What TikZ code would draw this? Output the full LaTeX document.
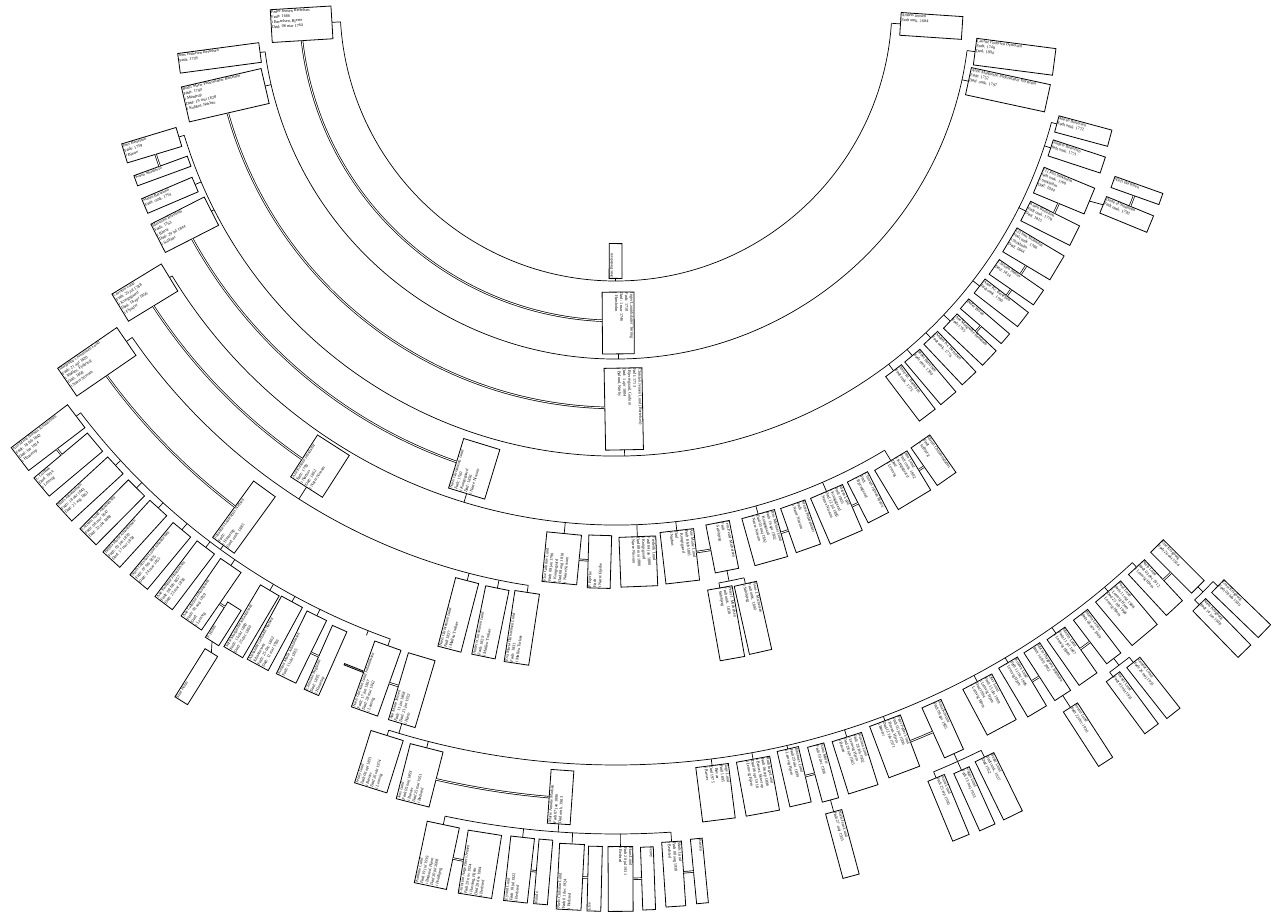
\documentclass[tikz,border=0pt]{standalone}
\usepackage{fontspec}
\setmainfont{Liberation Serif}
\tikzset{
 pbox/.style={draw, line width=0.8pt, fill=white, inner sep=0.7pt, outer sep=0pt},
 cline/.style={line width=0.7pt},
 sline/.style={double, double distance=0.9pt, line width=0.7pt},
}
% box: name, theta, radius of centre, radial length, tangential width, text
\newcommand\pbx[6]{%
 \pgfmathsetmacro\pbrot{(#2<270)?(#2-180):(#2)}%
 \pgfmathsetmacro\pbw{#4-1.6}%
 \pgfmathsetmacro\pbh{#5-1.6}%
 \node[pbox, rotate=\pbrot] (#1) at (#2:#3pt) {\parbox[c][\pbh pt][t]{\pbw pt}{\fontsize{4.2}{5.1}\selectfont\raggedright #6}};%
 \pgfmathsetmacro\pbin{#3-#4/2}%
 \pgfmathsetmacro\pbout{#3+#4/2}%
 \coordinate (#1-in) at (#2:\pbin pt);%
 \coordinate (#1-out) at (#2:\pbout pt);%
}
% family arc: radius, from, to
\newcommand\famarc[3]{\draw[cline] (#2:#1pt) arc[start angle=#2, end angle=#3, radius=#1pt];}
% child stub: radius, theta, name
\newcommand\kidln[3]{\draw[cline] (#2:#1pt) -- (#3-in);}
% parent stub: radius, theta, name
\newcommand\parln[3]{\draw[cline] (#3-out) -- (#2:#1pt);}
% spouse line: thetaA, widA, thetaB, widB, rho
\newcommand\spln[5]{%
 \pgfmathsetmacro\spa{#1+#2/2/#5*57.2958}%
 \pgfmathsetmacro\spb{#3-#4/2/#5*57.2958}%
 \draw[sline] (\spa:#5pt) arc[start angle=\spa, end angle=\spb, radius=#5pt];}
\begin{document}
\begin{tikzpicture}[x=1pt,y=1pt]
\useasboundingbox (0,0) rectangle (1271,-921);
\fill[white] (0,0) rectangle (1271,-921);
\begin{scope}[shift={(616,-5)}]
% ---------- generation 0 / arc 1
\pbx{g0}{269.9}{256}{35}{13}{Jens Bertelsen}
\pbx{peder}{183.5}{315}{61}{33}{Peder Jensen Bertelsen\\Født: 1686\\i Bertelsen, Bjerre\\Død: 08 mar 1764}
\pbx{anders}{356.2}{316}{62}{23}{Anders Jensen\\Født omk. 1684}
\famarc{276}{183.5}{356.2}
\parln{276}{269.9}{g0}
\kidln{276}{183.5}{peder}
\kidln{276}{356.2}{anders}
\pbx{inger}{270.4}{318}{62}{32}{Inger Lauridsdatter Tørring\\Født: 1710\\Død: 1 mar 1746\\i Hørsholm}
\spln{183.5}{33}{270.4}{32}{316}
% ---------- arc 2
\pbx{jenspb}{187.6}{400}{82}{20}{Jens Pedersen Bertelsen\\Født: 1736}
\pbx{bodil}{193}{401}{82}{36}{Bodil Marie Pedersdatter Bertelsen\\Født: 1740\\i Mørdrup\\Død: 19 mai 1828\\i Kobbel, Nørbro}
\pbx{lauritz}{352.6}{402}{80}{27}{Lauritz Pedersen Bertelsen\\Født: 1748\\Død: 1804}
\pbx{annem}{347.8}{401}{81}{28}{Anne Margrethe Pedersdatter Bertelsen\\Født: 1752\\Død: omk. 1797}
\famarc{354}{187.6}{352.6}
\parln{354}{270.4}{inger}
\kidln{354}{187.6}{jenspb}
\kidln{354}{193}{bodil}
\kidln{354}{352.6}{lauritz}
\kidln{354}{347.8}{annem}
\pbx{christenj}{271.1}{404}{82}{38}{Christen Jensen Lund (Bertelsen)\\Født: 1713\\i Bjerregaard, Gudum\\Død: 1 apr 1804\\i Bølund, Nørby}
\spln{193}{36}{271.1}{38}{403}
% ---------- arc 3
\pbx{jensb}{196.8}{485}{57}{20}{Jens Bertelsen\\Født: 1759\\i Bjerre}
\pbx{karens}{200.1}{483}{57}{11}{Karen Skaldevin}
\pbx{marenb}{203.1}{485}{55}{16}{Maren Bertelsen\\Født: omk. 1761}
\pbx{marianne}{207}{484}{60}{32}{Marianne Bertelsen\\Født: 1763\\i Bjerre\\Død: 29 jul 1844\\i Solkjær}
\pbx{marenb2}{344.9}{484}{55}{17}{Maren Bertelsen\\Født omk. 1772}
\pbx{andersb}{341.8}{485}{55}{17}{Anders Bertelsen\\født omk. 1771}
\pbx{jens1}{337.5}{485}{55}{28}{[1] Jens Stokholm\\født omk. 1760\\i Stokholm\\Død: 1844}
\pbx{karenb}{333.3}{486}{55}{22}{Karen Bertelsen\\Født omk. 1770\\Død: 1815}
\pbx{jens2}{329.2}{486}{55}{28}{[2] Jens Stokholm\\Født omk. 1760\\i Stokholm\\Død: 1844}
\pbx{christenm}{325.3}{487}{54}{18}{Christen Møller\\Død: 1814}
\pbx{anekrb}{322.3}{487}{55}{18}{Anne Kr. Bertelsen\\Født omk. 1790}
\pbx{pederbr}{319.4}{486}{54}{13}{Peder Bruun}
\pbx{anemb}{316.6}{487}{54}{20}{Ane Margrethe Bertelsen\\Født 1765}
\pbx{anderskb}{313.4}{486}{56}{19}{Anders Kr. Bertelsen\\Født omk. 1776}
\pbx{pederb}{310.2}{487}{56}{20}{Peder Bertelsen\\Født omk. 1780}
\pbx{annekb}{307.2}{487}{56}{20}{Anne Kr. Bertelsen\\Født omk. 1775}
\pbx{dorte}{337.7}{552}{51}{18}{Dorte af Stokholm\\Født omk. 1790}
\pbx{nielsb}{340.4}{553}{51}{12}{Niels Bertelsen}
\famarc{451}{196.8}{344.9}
\parln{451}{271.1}{christenj}
\kidln{451}{196.8}{jensb}
\kidln{451}{203.1}{marenb}
\kidln{451}{207}{marianne}
\kidln{451}{344.9}{marenb2}
\kidln{451}{341.8}{andersb}
\kidln{451}{333.3}{karenb}
\kidln{451}{322.3}{anekrb}
\kidln{451}{316.6}{anemb}
\kidln{451}{313.4}{anderskb}
\kidln{451}{310.2}{pederb}
\kidln{451}{307.2}{annekb}
\spln{196.8}{20}{200.1}{11}{484}
\spln{333.3}{22}{337.5}{28}{485}
\spln{325.3}{18}{329.2}{28}{486}
\spln{322.3}{18}{325.3}{18}{487}
\spln{316.6}{20}{319.4}{13}{486}
\draw[cline] (jens1-out) -- (dorte-in);
\spln{337.7}{18}{340.4}{12}{552}
% ---------- arc 4
\pbx{nielsl}{253}{485}{52}{38}{Niels Christensen Lund\\Født: 1760\\i Kongsgaard\\Død: 1836\\i Nørre Nissum}
\spln{207}{32}{253}{38}{484}
\pbx{christenl}{211.4}{552}{58}{32}{Christen Lund\\Født: 25 jul 1788\\i Kongsgaard\\Død: 18 apr 1856\\i Flynder}
\pbx{else}{264.4}{556}{50}{35}{Else Cathrine Lund\\Født 08 jan 1790\\i Kongsgaard\\Død 08 aug 1818\\i Nørre Nissum}
\pbx{pbjerke}{268.3}{557}{53}{23}{P. Bjerke\\Født\\i Nørre Bjerke}
\pbx{frederik}{272.3}{557}{50}{37}{Frederik Lund\\Født 04 jan 1800\\i Kongsgaard\\Død 08 mai 1880\\i Nørre Nissum}
\pbx{anemarl}{276.6}{555}{52}{34}{Ane Marie Lund\\Født 8 feb 1801\\i Kongsgaard\\Død\\i Nørhus}
\pbx{jenspm}{281.1}{552}{49}{24}{Jens Peder Michelsen\\Født\\i Sølvbjerg}
\pbx{jensml}{285.6}{553}{49}{34}{Jens Michael Lund\\Født 16 apr 1802\\i Kongsgaard\\Død 03 maj 1842\\i Nørre Nissum}
\pbx{marenp}{289.5}{553}{47}{26}{Maren Pedersdatter\\Født\\i Nørre Nissum}
\pbx{marenl}{293.4}{555}{50}{35}{Maren Lund\\Født 1805\\i Kongsgaard\\Død 12 jul 1885\\i Nørre Nissum}
\pbx{christenjb}{297.1}{553}{46}{23}{Christen Jepsen Bjerre\\Født\\i Bjerregaard}
\pbx{anel}{301.1}{555}{46}{38}{Ane Lund\\Født omk. 1802\\i Kongsgaard\\Død\\i Lemvig}
\pbx{marenc}{304.9}{555}{46}{23}{Maren Christensdatter\\Født\\i Solbjerg}
\famarc{520}{211.4}{301.1}
\parln{520}{253}{nielsl}
\kidln{520}{211.4}{christenl}
\kidln{520}{264.4}{else}
\kidln{520}{272.3}{frederik}
\kidln{520}{276.6}{anemarl}
\kidln{520}{285.6}{jensml}
\kidln{520}{293.4}{marenl}
\kidln{520}{301.1}{anel}
\spln{264.4}{35}{268.3}{23}{556}
\spln{276.6}{34}{281.1}{24}{553}
\spln{285.6}{34}{289.5}{26}{553}
\spln{293.4}{35}{297.1}{23}{554}
\spln{301.1}{38}{304.9}{23}{555}
\pbx{peterjm}{280.1}{628}{72}{25}{Peter J. Michelsen\\Født omk. 1838\\i Sølvbjerg}
\pbx{hansjm}{282.6}{628}{70}{23}{Hans J. Michelsen\\Født omk. 1840\\i Sølvbjerg}
\famarc{587}{280.1}{282.6}
\parln{587}{281.1}{jenspm}
\kidln{587}{280.1}{peterjm}
\kidln{587}{282.6}{hansjm}
% ---------- arc 5
\pbx{anekm}{237.3}{548}{50}{38}{Ane Kirstine Jensdatter\\Født: 1793\\i Nørhus\\Død: 1862\\i Nørre Nissum}
\spln{211.4}{32}{237.3}{38}{552}
\pbx{margrethe}{214.5}{630}{72}{34}{Margrethe Christensen Lund\\Født: 21 apr 1820\\i Mølleu, Fjaltring\\Død: 1858\\i Nørre Nissum}
\pbx{nielscl}{255.5}{630}{71}{24}{Niels Christensen Lund\\Født 1827\\i Mølleu Torkær}
\pbx{anderscl}{258.5}{630}{70}{24}{Anders Christensen Lund\\Født: 1829\\i Mølleu Torkær}
\pbx{evacl}{261.4}{630}{72}{25}{Eva Maria Christensen Lund\\Født: 1831\\i Mølleu Torkær}
\famarc{587}{214.5}{261.4}
\parln{587}{237.3}{anekm}
\kidln{587}{214.5}{margrethe}
\kidln{587}{255.5}{nielscl}
\kidln{587}{258.5}{anderscl}
\kidln{587}{261.4}{evacl}
\pbx{johannes}{234}{633}{70}{27}{Johannes Laurentius Nielsen\\Født:\\i Hinnerup\\Død: omk. 1885}
\spln{214.5}{34}{234}{27}{630}
% ---------- arc 6
\pbx{anemn}{217.3}{714}{71}{29}{Ane Marie Nielsen Johannessen\\Født: 18 feb 1842\\Død: før 1934\\i Hinnerup}
\pbx{lgudbak}{220}{715}{70}{24}{L. Gudbak\\Død: 1934\\i Lemvig}
\pbx{nielsj}{222.6}{715}{70}{23}{Niels Johannessen\\Født: 18 okt 1843\\Død: 21 aug 1863}
\pbx{christenlj}{225.2}{715}{69}{23}{Christen Lund Johannessen\\Født: 08 mar 1847\\Død: 22 okt 1888}
\pbx{berthamj}{227.7}{715}{70}{23}{Bertha Marie Johannessen\\Født: 03 jun 1850\\Død: 17 mar 1858}
\pbx{nielsclj}{230.4}{715}{68}{23}{Niels Christian Lund Johannessen\\Født: 07 feb 1855\\Død: 24 mar 1855}
\pbx{anekj}{232.9}{715}{70}{22}{Ane Kathrine Johannessen\\Født: 08 feb 1857\\Død: 23 mar 1858}
\pbx{anecj}{235.5}{715}{70}{25}{Ane Cathrine Johannessen\\Født: 03 aug 1859\\Død:\\i Lemvig}
\pbx{fholm}{237.6}{733}{42}{16}{F. Holm}
\pbx{sineholm}{238}{792}{57}{15}{Sine Holm}
\pbx{sofiemj}{239.4}{716}{72}{22}{Sofie Margrethe Johannessen\\Født: 13 okt 1860\\Død: 25 dec 1860}
\pbx{alexj}{241.5}{715}{72}{24}{Alexander Gerhardt Nielsen\\Johannessen\\Født: 25 dec 1862\\Død: 12 mar 1936}
\pbx{kirstenmj}{243.9}{715}{70}{22}{Kirsten Marie Johannessen\\Født: 11 okt 1865}
\pbx{christianb}{246.1}{717}{70}{16}{Christian Bygholm\\Død: 1895\\i Hinnerup}
\pbx{box11}{248.4}{713}{70}{20}{}
\pbx{nielsclj2}{250.4}{715}{70}{28}{Niels Christian Lund Johannessen\\Født: 17 jun 1867\\Død: 28 mai 1942\\i Lemvig}
\pbx{anemj}{253.4}{715}{70}{28}{Ane Marie Jensen\\Født: 11 jan 1868\\Død: 21 jan 1932\\i Hjem}
\famarc{673}{217.3}{250.4}
\parln{673}{234}{johannes}
\kidln{673}{217.3}{anemn}
\kidln{673}{222.6}{nielsj}
\kidln{673}{225.2}{christenlj}
\kidln{673}{227.7}{berthamj}
\kidln{673}{230.4}{nielsclj}
\kidln{673}{232.9}{anekj}
\kidln{673}{235.5}{anecj}
\kidln{673}{239.4}{sofiemj}
\kidln{673}{241.5}{alexj}
\kidln{673}{243.9}{kirstenmj}
\kidln{673}{248.4}{box11}
\kidln{673}{250.4}{nielsclj2}
\spln{217.3}{29}{220}{24}{714}
\spln{235.5}{25}{237.6}{16}{718}
\spln{243.9}{22}{246.1}{16}{716}
\spln{250.4}{28}{253.4}{28}{715}
\draw[cline] (fholm-out) -- (sineholm-in);
% ---------- arc 7
\pbx{jennyl}{252.6}{793}{55}{34}{Jenny Lund\\Født 06 apr 1891\\i Bøvær\\Død 26 okt 1974\\i Lemvig}
\pbx{jensl}{255.7}{795}{57}{34}{Jens Lund\\Født 05 maj 1893\\i Bøvær\\Død 25 mar 1951\\i Bedsted}
\pbx{marieam}{266}{794}{54}{23}{Marie Amalie Madsen\\Født 07 jan 1896\\Død omk. 1983}
\pbx{tage}{277.2}{794}{55}{33}{Tage Lund\\Født 1895\\i Bøvær\\Død 1975\\i Bøvær}
\pbx{ruth}{280.3}{794}{55}{34}{Ruth Inge Lund\\Født 06 sep 1896\\i Bøvær, Skovrup\\Død 06 apr 1918\\i Lemvig Hjem}
\pbx{johannesl}{283}{792}{57}{22}{Johannes Lund\\Født 29 okt 1899\\i Lemvig Hjem}
\pbx{annam}{285.1}{795}{57}{17}{Anna Mølle\\Født 10 dec 1908}
\pbx{kristianl}{287.5}{795}{55}{31}{Kristian Lund\\Født 28 feb 1902\\i Lemvig Hjem\\Død 28 apr 1965\\i Bøvær}
\pbx{peterl}{290.6}{792}{55}{33}{Peter Peder Lund\\Født 05 jun 1906\\i Bøvær, Hjem\\Død 12 feb 1971\\i Bøvær}
\pbx{annak}{294.3}{794}{55}{21}{Anna Kristine\\Født 09 apr 1905}
\pbx{olavl}{298.1}{793}{52}{33}{Olav Lund\\Født 15 okt 1909\\i Lemvig Hjem\\Død 1994\\i Lemvig Hjem}
\pbx{kristenl}{300.8}{794}{57}{22}{Kristen Lund\\Født 11 okt 1906\\i Lemvig Hjem}
\pbx{mariet}{302.9}{794}{57}{19}{Marie Thygesen Jakobsen\\Født 14 feb 1902}
\pbx{martinl}{305}{795}{56}{22}{Martin Lund\\Født 11 jul 1907\\i Lemvig Hjem}
\pbx{marenla}{307.3}{794}{55}{18}{Maren Larsen\\Født 05 nov 1909}
\pbx{poull}{310}{794}{57}{33}{Poul Lund\\Født 11 okt 1908\\i Lemvig Hjem\\Død 25 feb 1998\\i Lemvig Hjem}
\pbx{nielsl2}{312.8}{794}{56}{22}{Niels Lund\\Født 03 dec 1912\\i Lemvig Hjem}
\pbx{elsek}{315}{794}{58}{18}{Else Kragborg\\Født 26 okt 1914}
\famarc{760}{252.6}{312.8}
\parln{760}{253.4}{anemj}
\kidln{760}{252.6}{jennyl}
\kidln{760}{255.7}{jensl}
\kidln{760}{277.2}{tage}
\kidln{760}{280.3}{ruth}
\kidln{760}{283}{johannesl}
\kidln{760}{287.5}{kristianl}
\kidln{760}{290.6}{peterl}
\kidln{760}{298.1}{olavl}
\kidln{760}{300.8}{kristenl}
\kidln{760}{305}{martinl}
\kidln{760}{310}{poull}
\kidln{760}{312.8}{nielsl2}
\spln{255.7}{34}{266}{23}{795}
\spln{283}{22}{285.1}{17}{794}
\spln{290.6}{33}{294.3}{21}{793}
\spln{300.8}{22}{302.9}{19}{794}
\spln{305}{22}{307.3}{18}{794}
\spln{312.8}{22}{315}{18}{794}
\pbx{nielsjl}{285.1}{869}{67}{17}{Niels Jens Lund\\Født 27 maj 1935}
\draw[cline] (annam-out) -- (nielsjl-in);
\pbx{svendl}{302.9}{869}{65}{17}{Svend Lund\\Født 22 dec 1936}
\draw[cline] (mariet-out) -- (svendl-in);
\pbx{annel}{292.5}{869}{65}{18}{Anne Lund\\Født 25 sep 1930}
\pbx{viggol}{294.3}{871}{63}{17}{Viggo Lund\\Født 13 maj 1933}
\pbx{bentel}{296.1}{870}{65}{21}{Bente Lund\\Født omk. 1937\\Død 1952}
\famarc{830}{292.5}{296.1}
\parln{830}{294.3}{annak}
\kidln{830}{292.5}{annel}
\kidln{830}{294.3}{viggol}
\kidln{830}{296.1}{bentel}
\pbx{vernerl}{306.5}{868}{65}{17}{Verner Lund\\Født 03 okt 1931}
\pbx{gunnarl}{308.2}{869}{65}{17}{Gunnar Lund\\Født 26 maj 1935}
\famarc{830}{306.5}{308.2}
\parln{830}{307.3}{marenla}
\kidln{830}{306.5}{vernerl}
\kidln{830}{308.2}{gunnarl}
\pbx{nielsk}{314.2}{869}{65}{18}{Niels Kragborg\\Født 14 jan 1938}
\pbx{ernstk}{316}{869}{65}{18}{Ernst Kragborg\\Født 08 feb 1939}
\famarc{830}{314.2}{316}
\parln{830}{315}{elsek}
\kidln{830}{314.2}{nielsk}
\kidln{830}{316}{ernstk}
% ---------- arc 8
\pbx{kathrinel}{258.1}{869}{63}{33}{Kathrine Lund\\Født 19 jul 1919\\i Bedsted, Hjem\\Død 20 jul 2008\\i Hvidbjerg}
\pbx{christianaej}{261}{870}{64}{34}{Christian Aage Eilers Jensen\\Født 29 nov 1924\\i Hassing, Hjem\\Død 28 dec 1994\\i Bedsted}
\pbx{eyvindl}{263.6}{870}{65}{24}{Eyvind Lund\\Født 18 jul 1922\\i Bedsted}
\pbx{knude}{265.2}{870}{65}{14}{Knude}
\pbx{nielscl3}{267}{873}{66}{25}{Niels Christian Lund\\Født 01 dec 1924\\i Bedsted}
\pbx{else2}{268.6}{874}{65}{14}{Else}
\pbx{hansl}{270.3}{874}{65}{25}{Hans Lund\\Født 20 jul 1931\\i Bedsted}
\pbx{jenny2}{272.1}{874}{63}{13}{Jenny}
\pbx{madsl}{273.8}{871}{65}{20}{Mads Lund\\Født 08 aug 1938\\i Bedsted}
\pbx{kirsten2}{275.5}{870}{65}{12}{Kirsten}
\famarc{829}{258.1}{273.8}
\parln{829}{266}{marieam}
\kidln{829}{258.1}{kathrinel}
\kidln{829}{263.6}{eyvindl}
\kidln{829}{267}{nielscl3}
\kidln{829}{270.3}{hansl}
\kidln{829}{273.8}{madsl}
\spln{258.1}{33}{261}{34}{869}
\spln{263.6}{24}{265.2}{14}{870}
\spln{267}{25}{268.6}{14}{873}
\spln{270.3}{25}{272.1}{13}{874}
\spln{273.8}{20}{275.5}{12}{870}
\end{scope}
\end{tikzpicture}
\end{document}
